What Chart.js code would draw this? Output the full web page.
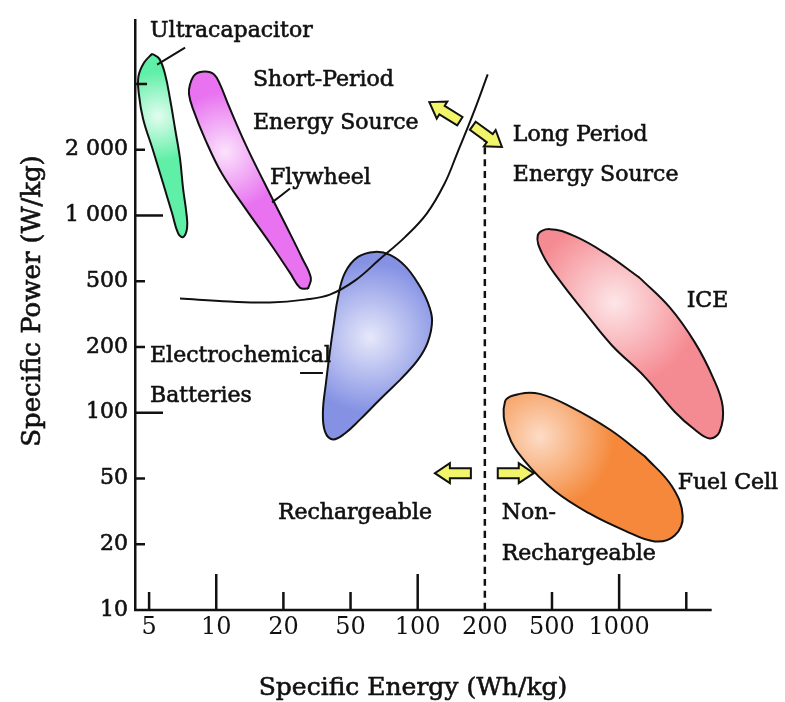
<!DOCTYPE html>
<html>
<head>
<meta charset="utf-8">
<script src="https://cdn.jsdelivr.net/npm/chart.js@4.4.0/dist/chart.umd.min.js"></script>
<style>
  html, body { margin: 0; padding: 0; background: #fff; }
  #grafico { display: block; }
</style>
</head>
<body>
<canvas id="grafico" width="785" height="702"></canvas>
<script>
//ticks de los ejes (espaciados igual, no es log real)
const energyTicks = [5, 10, 20, 50, 100, 200, 500, 1000, 2000];
const powerTicks = [10, 20, 50, 100, 200, 500, 1000, 2000, 5000];
const energyLabels = ["5", "10", "20", "50", "100", "200", "500", "1000", ""];
const powerLabels = ["10", "20", "50", "100", "200", "500", "1 000", "2 000", ""];
const energyAxisEnd = 2600; //fin de la linea del eje x (Wh/kg)

//contornos de cada zona [Wh/kg, W/kg]
const ultracapacitor = [[5.16,7620],[5.55,7120],[5.90,5710],[6.21,4040],[6.54,2670],[6.88,1820],[7.10,1329],[7.35,1023],[7.40,875],[7.10,796],[6.74,830],[6.34,1023],[5.78,1400],[5.18,2026],[4.70,3070],[4.50,4330],[4.48,5560],[4.75,6740]];
const flywheel = [[28.0,451],[25.1,457],[21.9,546],[17.4,748],[13.5,1078],[10.6,1555],[8.91,2320],[7.87,3520],[7.55,4330],[7.63,4970],[8.04,5710],[8.91,5950],[9.78,5710],[10.4,4970],[11.3,3770],[13.5,2170],[16.5,1400],[20.4,921],[25.8,639],[29.1,518]];
const batteries = [[83.2,141],[67.7,115],[55.1,93],[46.3,80.4],[39.3,75.5],[35.3,82],[34.3,101],[35.8,138],[37.7,190],[39.9,282],[42.1,398],[46.3,546],[54.0,646],[64.3,681],[75.1,660],[87.7,588],[100,489],[111,372],[116,290],[111,214],[100,174]];
const ice = [[1237,518],[1686,347],[2180,214],[2626,146],[2912,107],[2822,82],[2546,76.3],[2180,83.8],[1774,101],[1302,146],[927,205],[701,324],[542,503],[441,660],[412,813],[485,866],[632,804],[862,674]];
const fuelCell = [[1302,63.2],[1721,45.0],[1927,29.7],[1774,22.6],[1444,20.8],[1059,24.2],[739,30.6],[515,42.0],[345,60.0],[274,80.4],[263,112],[322,122],[423,122],[601,107],[908,83.8]];

//curva que separa corto/largo periodo y linea de 200 Wh/kg
const boundary = [[6.88,393],[11.5,377],[17.4,372],[26.8,387],[37.7,415],[52.3,503],[67.7,632],[87.7,796],[110,1023],[132,1400],[150,1916],[177,3280],[208,5710]];
const divider = [[200,10],[200,2250]];

//lineas guia de las etiquetas
const ultraLeader = [[5.43,6550],[7.25,8300]];
const flyLeader = [[17.8,1148],[21.9,1329]];
const electroLeader = [[25.1,152],[34.3,152]];

//textos [texto, Wh/kg, W/kg]
const notes = [
  ["Ultracapacitor", 5.05, 9650],
  ["Short-Period", 14.6, 4830],
  ["Energy Source", 14.6, 2670],
  ["Flywheel", 17.4, 1400],
  ["Long Period", 293, 2260],
  ["Energy Source", 293, 1445],
  ["ICE", 2008, 347],
  ["Electrochemical", 5.05, 171],
  ["Batteries", 5.05, 112],
  ["Rechargeable", 18.9, 28.5],
  ["Non-", 252, 28.5],
  ["Rechargeable", 252, 16.9],
  ["Fuel Cell", 1830, 43.2]
];
//flechas amarillas [Wh/kg, W/kg, angulo]
const arrows = [[132,3400,-148],[207,2410,36],[143.8,52.9,180],[305,52.9,0]];

//posicion en el eje a partir del valor (tramos logaritmicos entre ticks)
const toPos = (v, ticks) => {
    let k = 0;
    while (k < ticks.length - 2 && v > ticks[k + 1]) k++;
    return k + Math.log(v / ticks[k]) / Math.log(ticks[k + 1] / ticks[k]);
};
const pt = ([e, p]) => ({ x: toPos(e, energyTicks), y: toPos(p, powerTicks) });

const gradiente = (c, centre, r, inner, outer) => {
    const chart = c.chart;
    if (!chart.chartArea) return outer;
    const cx = chart.scales.x.getPixelForValue(toPos(centre[0], energyTicks));
    const cy = chart.scales.y.getPixelForValue(toPos(centre[1], powerTicks));
    const g = chart.ctx.createRadialGradient(cx, cy, 0, cx, cy, r);
    g.addColorStop(0, inner);
    g.addColorStop(1, outer);
    return g;
};

const blob = (points, inner, outer, centre, r) => ({
    data: [...points, points[0]].map(pt),
    showLine: true,
    fill: "shape",
    tension: 0.4,
    borderColor: "#111",
    borderWidth: 2,
    pointRadius: 0,
    backgroundColor: c => gradiente(c, centre, r, inner, outer),
    clip: false
});

const linea = (points, width, dash) => ({
    data: points.map(pt),
    showLine: true,
    fill: false,
    tension: 0.4,
    borderColor: "#111",
    borderWidth: width,
    borderDash: dash || [],
    pointRadius: 0,
    clip: false
});

const dibujarFlecha = (ctx, cx, cy, ang) => {
    const L = 36, sw = 5, hl = 15, hw = 10;
    ctx.save();
    ctx.translate(cx, cy);
    ctx.rotate(ang * Math.PI / 180);
    ctx.beginPath();
    ctx.moveTo(-L / 2, -sw);
    ctx.lineTo(L / 2 - hl, -sw);
    ctx.lineTo(L / 2 - hl, -hw);
    ctx.lineTo(L / 2, 0);
    ctx.lineTo(L / 2 - hl, hw);
    ctx.lineTo(L / 2 - hl, sw);
    ctx.lineTo(-L / 2, sw);
    ctx.closePath();
    ctx.fillStyle = "#f2f46a";
    ctx.fill();
    ctx.lineWidth = 2;
    ctx.strokeStyle = "#111";
    ctx.stroke();
    ctx.restore();
};

//texto un poco mas grueso (fuente original mas pesada)
const texto = (ctx, t, x, y) => {
    ctx.fillText(t, x, y);
    ctx.strokeText(t, x, y);
};

//ticks hacia dentro, eje x, textos, flechas y titulos
const decor = {
    id: "decor",
    afterDatasetsDraw(chart) {
        const { ctx, scales: { x, y } } = chart;
        const px = v => x.getPixelForValue(toPos(v, energyTicks));
        const py = v => y.getPixelForValue(toPos(v, powerTicks));
        const base = y.getPixelForValue(0);
        const left = x.left;
        ctx.save();
        ctx.strokeStyle = "#111";
        ctx.lineWidth = 2.5;
        ctx.beginPath();
        ctx.moveTo(left - 1, base);
        ctx.lineTo(px(energyAxisEnd), base);
        ctx.stroke();
        const xLen = [18, 36, 18, 18, 36, 0, 18, 36, 18];
        energyTicks.forEach((t, i) => {
            if (!xLen[i]) return;
            ctx.beginPath();
            ctx.moveTo(px(t), base);
            ctx.lineTo(px(t), base - xLen[i]);
            ctx.stroke();
        });
        const yLen = [0, 10, 10, 28, 10, 10, 28, 10, 12];
        powerTicks.forEach((t, i) => {
            if (!yLen[i]) return;
            ctx.beginPath();
            ctx.moveTo(left, py(t));
            ctx.lineTo(left + yLen[i], py(t));
            ctx.stroke();
        });
        arrows.forEach(([e, p, a]) => dibujarFlecha(ctx, px(e), py(p), a));
        ctx.fillStyle = "#111";
        ctx.strokeStyle = "#111";
        ctx.lineWidth = 0.6;
        ctx.font = '22px "DejaVu Serif"';
        ctx.textAlign = "left";
        ctx.textBaseline = "alphabetic";
        notes.forEach(([t, e, p]) => texto(ctx, t, px(e), py(p)));
        ctx.font = '25px "DejaVu Serif"';
        ctx.textAlign = "center";
        texto(ctx, "Specific Energy (Wh/kg)", 413, 695);
        ctx.font = '26px "DejaVu Serif"';
        ctx.translate(40, 301);
        ctx.rotate(-Math.PI / 2);
        texto(ctx, "Specific Power (W/kg)", 0, 0);
        ctx.restore();
    }
};

const ctx = document.getElementById("grafico").getContext("2d");
const grafico = new Chart(ctx, {
    type: "scatter",
    data: {
        //las lineas van primero para quedar encima de las zonas
        datasets: [
            linea(boundary, 2),
            linea(divider, 2.5, [7, 5]),
            linea(ultraLeader, 2),
            linea(flyLeader, 2),
            linea(electroLeader, 2),
            blob(ultracapacitor, "#e2fdf0", "#5fefa6", [5.49, 3190], 45),
            blob(flywheel, "#fbe2fc", "#e872f0", [10.95, 1956], 60),
            blob(batteries, "#e6e8fa", "#8592e4", [61.1, 229], 75),
            blob(ice, "#fde6e8", "#f58b92", [956, 372], 85),
            blob(fuelCell, "#fcdcc6", "#f5883a", [423, 77.9], 75)
        ]
    },
    options: {
        responsive: false,
        animation: false,
        events: [],
        layout: { padding: { top: 15, right: 45, left: 0, bottom: 0 } },
        elements: { line: { capBezierPoints: false } },
        plugins: { legend: { display: false }, tooltip: { enabled: false } },
        scales: {
            x: {
                type: "linear",
                min: -0.21,
                max: 8.8,
                afterFit: s => { s.height = 92; },
                grid: { display: false, drawTicks: false },
                border: { display: false },
                ticks: {
                    stepSize: 1,
                    includeBounds: false,
                    autoSkip: false,
                    maxRotation: 0,
                    padding: 3,
                    color: "#111",
                    font: { family: "DejaVu Serif", size: 24 },
                    callback: v => energyLabels[v] ?? ""
                }
            },
            y: {
                type: "linear",
                min: 0,
                max: 8.97,
                afterFit: s => { s.width = 135; },
                grid: { display: false, drawTicks: false },
                border: { display: true, color: "#111", width: 2.5 },
                ticks: {
                    stepSize: 1,
                    includeBounds: false,
                    autoSkip: false,
                    padding: 7,
                    color: "#111",
                    textStrokeColor: "#111",
                    textStrokeWidth: 0.6,
                    font: { family: "DejaVu Serif", size: 22 },
                    callback: v => powerLabels[v] ?? ""
                }
            }
        }
    },
    plugins: [decor]
});
</script>
</body>
</html>
